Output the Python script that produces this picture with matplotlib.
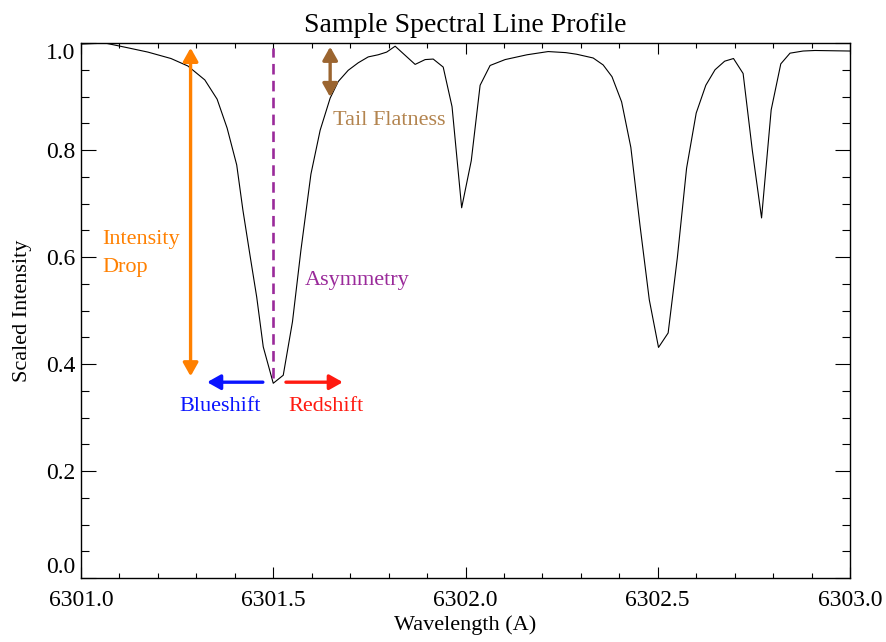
import matplotlib
matplotlib.use('Agg')
import matplotlib.pyplot as plt
from matplotlib.ticker import MultipleLocator, FormatStrFormatter

plt.rcParams.update({'font.family': ['Liberation Serif', 'DejaVu Serif'],
'axes.linewidth': 1.0,
'xtick.direction': 'in',
'ytick.direction': 'in',
'xtick.top': True,
'ytick.right': True})

# profile (wavelength in A, scaled intensity)
WAVELENGTH = [6301.000, 6301.062, 6301.122, 6301.174, 6301.234, 6301.278, 6301.322, 6301.354,
              6301.380, 6301.405, 6301.421, 6301.440, 6301.457, 6301.474, 6301.500, 6301.526,
              6301.550, 6301.572, 6301.598, 6301.622, 6301.648, 6301.669, 6301.695, 6301.721,
              6301.747, 6301.773, 6301.795, 6301.817, 6301.869, 6301.895, 6301.916, 6301.942,
              6301.965, 6301.990, 6302.015, 6302.038, 6302.064, 6302.103, 6302.160, 6302.215,
              6302.261, 6302.289, 6302.332, 6302.358, 6302.381, 6302.406, 6302.430, 6302.454,
              6302.478, 6302.502, 6302.527, 6302.551, 6302.575, 6302.600, 6302.625, 6302.649,
              6302.674, 6302.697, 6302.722, 6302.746, 6302.770, 6302.795, 6302.820, 6302.844,
              6302.878, 6302.909, 6303.000]
INTENSITY = [0.998, 1.000, 0.991, 0.983, 0.971, 0.957, 0.931, 0.895,
             0.841, 0.772, 0.688, 0.601, 0.525, 0.432, 0.364, 0.379,
             0.479, 0.613, 0.755, 0.837, 0.897, 0.928, 0.949, 0.963,
             0.974, 0.978, 0.983, 0.994, 0.960, 0.969, 0.970, 0.955,
             0.881, 0.692, 0.780, 0.921, 0.958, 0.969, 0.978, 0.984,
             0.982, 0.979, 0.972, 0.959, 0.937, 0.890, 0.805, 0.658,
             0.520, 0.431, 0.458, 0.599, 0.766, 0.869, 0.921, 0.950,
             0.966, 0.971, 0.943, 0.799, 0.673, 0.875, 0.961, 0.981,
             0.985, 0.986, 0.985]

# annotation markers: (x, y_start, y_end) for vertical, (y, x_start, x_end) for horizontal
DROP_ARROW = (6301.285, 0.377, 0.991)
ASYM_LINE = (6301.500, 0.374, 0.990)
TAIL_ARROW = (6301.648, 0.899, 0.993)
BLUE_ARROW = (0.366, 6301.473, 6301.328)
RED_ARROW = (0.366, 6301.533, 6301.681)

ORANGE = '#FF8000'
PURPLE = '#9A2A9A'
BROWN = '#9B6530'
BROWN_TEXT = '#B3844F'
BLUE = '#0A14FF'
RED = '#FF1A10'

fig = plt.figure(figsize = (8.86, 6.42), dpi = 100)
ax = fig.add_axes([81/886, 64/642, 769/886, 535/642])

ax.plot(WAVELENGTH, INTENSITY, color = 'black', lw = 0.8)

ax.set_xlim(6301.0, 6303.0)
ax.set_ylim(0.0, 1.0)
ax.xaxis.set_major_locator(MultipleLocator(0.5))
ax.xaxis.set_minor_locator(MultipleLocator(0.1))
ax.yaxis.set_major_locator(MultipleLocator(0.2))
ax.yaxis.set_minor_locator(MultipleLocator(0.05))
ax.xaxis.set_major_formatter(FormatStrFormatter('%.1f'))
ax.yaxis.set_major_formatter(FormatStrFormatter('%.1f'))
ax.tick_params(axis = 'x', which = 'major', length = 7.7, width = 0.8, labelsize = 17, pad = 9)
ax.tick_params(axis = 'x', which = 'minor', length = 3.9, width = 0.8)
ax.tick_params(axis = 'y', which = 'major', length = 11.1, width = 0.8, labelsize = 17, pad = 4)
ax.tick_params(axis = 'y', which = 'minor', length = 5.5, width = 0.8)

ax.set_title('Sample Spectral Line Profile', fontsize = 20, pad = 8)
ax.set_xlabel('Wavelength (A)', fontsize = 16, labelpad = 3)
ax.set_ylabel('Scaled Intensity', fontsize = 16, labelpad = 10)

# IDL style: end labels of the y axis sit inside the axis range
fig.canvas.draw()
for tick in ax.yaxis.get_major_ticks():
    if abs(tick.get_loc() - 0.0) < 1e-6:
        tick.label1.set_va('bottom')
    elif abs(tick.get_loc() - 1.0) < 1e-6:
        tick.label1.set_va('top')

def vert_arrow(spec, color, style = '<|-|>'):
    x, y0, y1 = spec
    ax.annotate('', xy = (x, y1), xytext = (x, y0),
                arrowprops = dict(arrowstyle = style + ',head_length=0.8,head_width=0.45',
                                  color = color, lw = 2.4, shrinkA = 0, shrinkB = 0))

def horiz_arrow(spec, color):
    y, x0, x1 = spec
    ax.annotate('', xy = (x1, y), xytext = (x0, y),
                arrowprops = dict(arrowstyle = '-|>,head_length=0.8,head_width=0.45',
                                  color = color, lw = 2.4, shrinkA = 0, shrinkB = 0))

vert_arrow(DROP_ARROW, ORANGE)
vert_arrow(TAIL_ARROW, BROWN)
ax.plot([ASYM_LINE[0], ASYM_LINE[0]], [ASYM_LINE[1], ASYM_LINE[2]], color = PURPLE,
        lw = 1.9, dashes = (4, 2.4))
horiz_arrow(BLUE_ARROW, BLUE)
horiz_arrow(RED_ARROW, RED)

ax.text(6301.055, 0.606, 'Intensity\nDrop', color = ORANGE, fontsize = 16,
        ha = 'left', va = 'center', linespacing = 1.65)
ax.text(6301.583, 0.557, 'Asymmetry', color = PURPLE, fontsize = 16, ha = 'left', va = 'center')
ax.text(6301.655, 0.856, 'Tail Flatness', color = BROWN_TEXT, fontsize = 16, ha = 'left', va = 'center')
ax.text(6301.362, 0.320, 'Blueshift', color = BLUE, fontsize = 16, ha = 'center', va = 'center')
ax.text(6301.637, 0.320, 'Redshift', color = RED, fontsize = 16, ha = 'center', va = 'center')

fig.savefig('out.png', dpi = 100)
